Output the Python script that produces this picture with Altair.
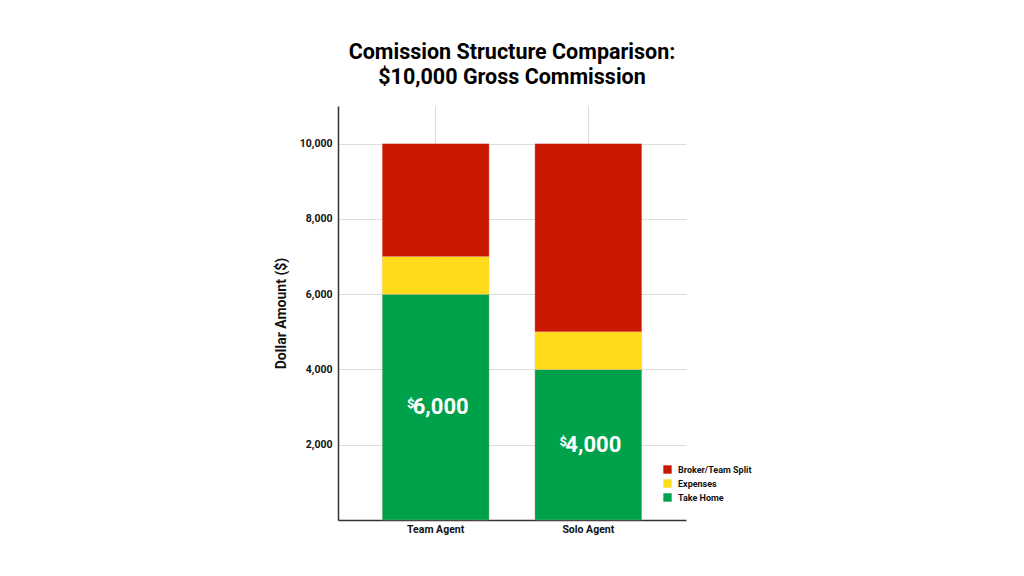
import altair as alt
import pandas as pd

agents = ["Team Agent", "Solo Agent"]
components = ["Broker/Team Split", "Expenses", "Take Home"]
take_home = [6000, 4000]
expenses = [1000, 1000]
broker_split = [3000, 5000]
colors = ["#CA1800", "#FFDC19", "#00A14B"]
y_ticks = [2000, 4000, 6000, 8000, 10000]

rows = []
for i, a in enumerate(agents):
    rows.append({"agent": a, "component": "Take Home", "value": take_home[i], "ord": 0})
    rows.append({"agent": a, "component": "Expenses", "value": expenses[i], "ord": 1})
    rows.append({"agent": a, "component": "Broker/Team Split", "value": broker_split[i], "ord": 2})
df = pd.DataFrame(rows)

labels = pd.DataFrame({
    "agent": agents,
    "mid": [v / 2 for v in take_home],
    "txt": [f"{v:,}" for v in take_home],
})

FONT = "Roboto"

xenc = alt.X("agent:N", sort=agents, title=None,
             scale=alt.Scale(paddingInner=0.3, paddingOuter=0.29),
             axis=alt.Axis(labelFont=FONT, labelFontWeight="bold", labelFontSize=10.5,
                           labelColor="#111", labelPadding=4, ticks=False,
                           domainColor="#333", domainWidth=1.5,
                           grid=True, gridColor="#dddddd", bandPosition=0.5,
                           tickExtra=False, labelAngle=0))

bars = alt.Chart(df).mark_bar(stroke="#f3b0a8", strokeWidth=0.3).encode(
    x=xenc,
    y=alt.Y("value:Q", stack="zero", title="Dollar Amount ($)",
            scale=alt.Scale(domain=[0, 11000], nice=False),
            axis=alt.Axis(values=y_ticks, format=",.0f", labelFont=FONT, labelFontWeight="bold",
                          labelFontSize=10.5, labelColor="#111", ticks=False, labelPadding=6,
                          domainColor="#333", domainWidth=1.5, grid=True, gridColor="#dddddd",
                          titleFont=FONT, titleFontSize=14, titleFontWeight="bold",
                          titleColor="#111", titlePadding=11)),
    color=alt.Color("component:N",
                    scale=alt.Scale(domain=components, range=colors),
                    legend=alt.Legend(title=None, orient="none", legendX=325, legendY=359,
                                      symbolType="square", symbolSize=70,
                                      symbolStrokeWidth=0, labelFont=FONT,
                                      labelFontWeight="bold", labelFontSize=9,
                                      labelColor="#111", rowPadding=4, labelOffset=6)),
    order=alt.Order("ord:Q", sort="ascending"),
)

nums = alt.Chart(labels).mark_text(font=FONT, fontWeight="bold", fontSize=22,
                                   color="white", dx=5, baseline="middle").encode(
    x=alt.X("agent:N", sort=agents),
    y=alt.Y("mid:Q"),
    text="txt:N",
)

dollars = alt.Chart(labels).mark_text(font=FONT, fontWeight="bold", fontSize=13,
                                      color="white", dx=-25, dy=-3, baseline="middle").encode(
    x=alt.X("agent:N", sort=agents),
    y=alt.Y("mid:Q"),
    text=alt.value("$"),
)

chart = alt.layer(bars, nums, dollars).properties(
    width=348, height=414,
    background="white",
    title=alt.TitleParams(["Comission Structure Comparison:", "$10,000 Gross Commission"],
                          font=FONT, fontSize=21.5, fontWeight="bold", color="#000",
                          anchor="middle", offset=18, lineHeight=25),
    autosize=alt.AutoSizeParams(type="none"),
    padding={"left": 330, "top": 98, "right": 200, "bottom": 40},
).configure_view(stroke="transparent", strokeWidth=0)

chart.save("out.html", embed_options={"renderer": "svg", "actions": False})
